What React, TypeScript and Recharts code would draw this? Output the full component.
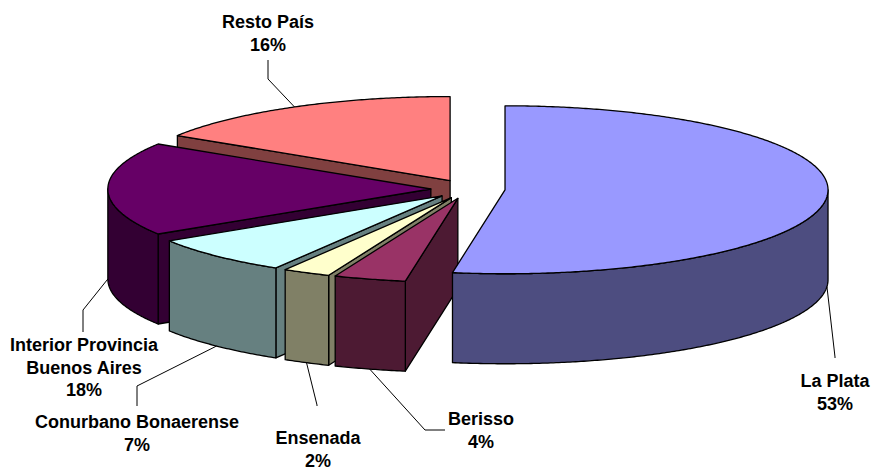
import React from 'react';
import { PieChart, Pie } from 'recharts';

// Data (listed in drawing order, counter-clockwise from 12 o'clock)
const categories = ['Resto País', 'Interior Provincia\nBuenos Aires', 'Conurbano Bonaerense', 'Ensenada', 'Berisso', 'La Plata'];
const values = [16.0, 18.0, 7.4, 2.4, 3.6, 52.6];

// Styles
const topColors = ['#FF8080', '#660066', '#CCFFFF', '#FFFFCC', '#993366', '#9999FF'];
const sideColors = ['#804040', '#330033', '#668080', '#808066', '#4D1A33', '#4D4D80'];

// Label layout: elbow and end of leader line, text centre and first baseline
const labelLayout = [
  { elbow: [268, 79], end: [268, 60], tx: 268, ty: 28 },
  { elbow: [83, 310], end: [83, 332], tx: 84, ty: 351 },
  { elbow: [137, 386], end: [137, 406], tx: 137, ty: 428 },
  { elbow: [317, 405], end: [317, 406], tx: 318, ty: 444 },
  { elbow: [425, 430], end: [445, 430], tx: 481, ty: 425 },
  { elbow: [835, 357], end: [835, 358], tx: 835, ty: 387 },
];

const data = categories.map((name, i) => ({ name, value: values[i] }));

const TILT = 0.26;
const DEPTH = 90;
const EXPLODE = 0.115;
const RAD = Math.PI / 180;

function geom(props: any) {
  const { cx, cy, outerRadius, startAngle, endAngle } = props;
  const lo = Math.min(startAngle, endAngle);
  const hi = Math.max(startAngle, endAngle);
  const mid = (lo + hi) / 2;
  const rx = outerRadius;
  const ry = rx * TILT;
  const ox = cx + EXPLODE * rx * Math.cos(mid * RAD);
  const oy = cy - EXPLODE * ry * Math.sin(mid * RAD);
  const P = (a: number, d = 0): [number, number] => [ox + rx * Math.cos(a * RAD), oy - ry * Math.sin(a * RAD) + d];
  return { lo, hi, mid, rx, ry, ox, oy, P };
}

function arc(P: (a: number, d?: number) => [number, number], a0: number, a1: number, d = 0) {
  const pts: string[] = [];
  const n = Math.max(2, Math.ceil(Math.abs(a1 - a0) / 0.5));
  for (let k = 0; k <= n; k++) {
    const a = a0 + ((a1 - a0) * k) / n;
    const p = P(a, d);
    pts.push(`${p[0].toFixed(2)},${p[1].toFixed(2)}`);
  }
  return pts;
}

const Slice3D = (props: any) => {
  const { index } = props;
  const { lo, hi, ox, oy, P } = geom(props);
  const top = topColors[index];
  const side = sideColors[index];
  const sw = 1.3;
  const parts: React.ReactNode[] = [];
  const face = (a: number, key: string) => {
    const r = P(a);
    const rb = P(a, DEPTH);
    const d = `M${ox},${oy} L${r[0]},${r[1]} L${rb[0]},${rb[1]} L${ox},${oy + DEPTH} Z`;
    parts.push(<path key={key} d={d} fill={side} stroke="#000" strokeWidth={sw} strokeLinejoin="round" />);
  };
  if (Math.cos(lo * RAD) > 1e-6) face(lo, 'flo');
  if (Math.cos(hi * RAD) < -1e-6) face(hi, 'fhi');
  const w0 = Math.max(lo, 180);
  const w1 = Math.min(hi, 360);
  if (w1 > w0) {
    const upper = arc(P, w0, w1);
    const lower = arc(P, w1, w0, DEPTH);
    const d = `M${upper.join(' L')} L${lower.join(' L')} Z`;
    parts.push(<path key="wall" d={d} fill={side} stroke="#000" strokeWidth={sw} strokeLinejoin="round" />);
  }
  const rim = arc(P, lo, hi);
  const dTop = `M${ox},${oy} L${rim.join(' L')} Z`;
  parts.push(<path key="top" d={dTop} fill={top} stroke="#000" strokeWidth={sw} strokeLinejoin="round" />);
  return <g>{parts}</g>;
};

const SliceLabel = (props: any) => {
  const { index, percent } = props;
  const { mid, P } = geom(props);
  const front = Math.sin(mid * RAD) <= 1e-6;
  const s = P(mid, front ? DEPTH : 0);
  const L = labelLayout[index];
  const lines = [...String(categories[index]).split('\n'), `${Math.round(percent * 100)}%`];
  return (
    <g>
      <polyline
        points={`${s[0]},${s[1]} ${L.elbow[0]},${L.elbow[1]} ${L.end[0]},${L.end[1]}`}
        fill="none"
        stroke="#000"
        strokeWidth={1}
      />
      {lines.map((t, k) => (
        <text
          key={k}
          x={L.tx}
          y={L.ty + k * 22.5}
          textAnchor="middle"
          fontFamily="'Liberation Sans', Arial, sans-serif"
          fontWeight="bold"
          fontSize={18}
          fill="#000"
        >
          {t}
        </text>
      ))}
    </g>
  );
};

export default function App() {
  return (
    <div style={{ position: 'absolute', left: 0, top: 0, width: 872, height: 470, background: '#fff' }}>
      <PieChart width={872} height={470} margin={{ top: 0, right: 0, bottom: 0, left: 0 }}>
        <Pie
          data={data}
          dataKey="value"
          nameKey="name"
          cx={468}
          cy={189}
          outerRadius={323}
          startAngle={90}
          endAngle={450}
          fill="none"
          stroke="none"
          isAnimationActive={false}
          label={Slice3D}
          labelLine={false}
        />
        <Pie
          data={data}
          dataKey="value"
          nameKey="name"
          cx={468}
          cy={189}
          outerRadius={323}
          startAngle={90}
          endAngle={450}
          fill="none"
          stroke="none"
          isAnimationActive={false}
          label={SliceLabel}
          labelLine={false}
        />
      </PieChart>
    </div>
  );
}
